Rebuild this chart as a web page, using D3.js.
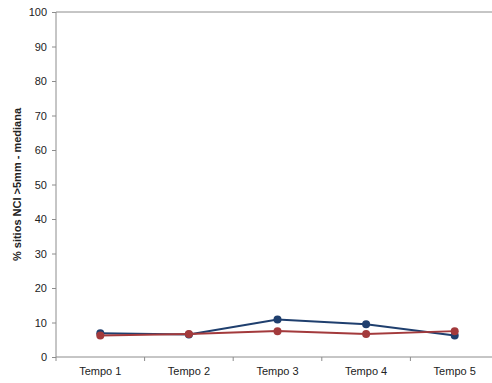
<!DOCTYPE html>
<html>
<head>
<meta charset="utf-8">
<script src="https://cdn.jsdelivr.net/npm/d3@7"></script>
<style>
  body { margin: 0; background: #fff; }
  svg { display: block; font-family: "Liberation Sans", Arial, sans-serif; }
  .axis path, .axis line { stroke: #8c8c8c; }
  .axis text { fill: #222; font-size: 11px; }
</style>
</head>
<body>
<svg width="492" height="383"></svg>
<script>
// data
var categories = ["Tempo 1", "Tempo 2", "Tempo 3", "Tempo 4", "Tempo 5"];
var blueValues = [6.9, 6.5, 10.9, 9.5, 6.2];
var redValues  = [6.2, 6.7, 7.5, 6.7, 7.5];
var yTicks = [0, 10, 20, 30, 40, 50, 60, 70, 80, 90, 100];

var margin = {top: 12, left: 56, right: -7, bottom: 26};

var svg = d3.select("svg");
var width = +svg.attr("width") - margin.left - margin.right;
var height = +svg.attr("height") - margin.top - margin.bottom;

var g = svg.append("g")
    .attr("transform", "translate(" + margin.left + "," + margin.top + ")");

var x = d3.scaleBand().domain(categories).range([0, width]);
var y = d3.scaleLinear().domain([0, 100]).range([height, 0]);

// top border line
g.append("line")
    .attr("x1", 0).attr("x2", width)
    .attr("y1", y(100)).attr("y2", y(100))
    .attr("stroke", "#8c8c8c");

g.append("g")
    .attr("class", "axis")
    .attr("transform", "translate(0," + height + ")")
    .call(d3.axisBottom(x).tickSize(0).tickPadding(10))
    .call(function(a) { a.select(".domain").attr("d", "M0,0H" + width); });

// tick marks between categories on x axis
g.selectAll(".xsep")
    .data(d3.range(categories.length + 1))
    .enter().append("line")
    .attr("x1", function(i) { return i * x.bandwidth(); })
    .attr("x2", function(i) { return i * x.bandwidth(); })
    .attr("y1", height).attr("y2", height + 4)
    .attr("stroke", "#8c8c8c");

g.append("g")
    .attr("class", "axis")
    .call(d3.axisLeft(y).tickValues(yTicks).tickSize(4).tickPadding(5))
    .call(function(a) { a.select(".domain").attr("d", "M0," + height + "V0"); });

g.append("text")
    .attr("transform", "translate(-35," + (height / 2) + ") rotate(-90)")
    .attr("text-anchor", "middle")
    .attr("font-size", "11px")
    .attr("font-weight", "bold")
    .attr("fill", "#222")
    .text("% sitios NCI >5mm - mediana");

var series = [
    {vals: blueValues, color: "#1f3f6e"},
    {vals: redValues, color: "#a33a3c"}
];

var line = d3.line()
    .x(function(d, i) { return x(categories[i]) + x.bandwidth() / 2; })
    .y(function(d) { return y(d); });

series.forEach(function(s) {
    g.append("path")
        .datum(s.vals)
        .attr("fill", "none")
        .attr("stroke", s.color)
        .attr("stroke-width", 2)
        .attr("d", line);
    g.selectAll(null)
        .data(s.vals)
        .enter().append("circle")
        .attr("cx", function(d, i) { return x(categories[i]) + x.bandwidth() / 2; })
        .attr("cy", function(d) { return y(d); })
        .attr("r", 4)
        .attr("fill", s.color);
});
</script>
</body>
</html>
